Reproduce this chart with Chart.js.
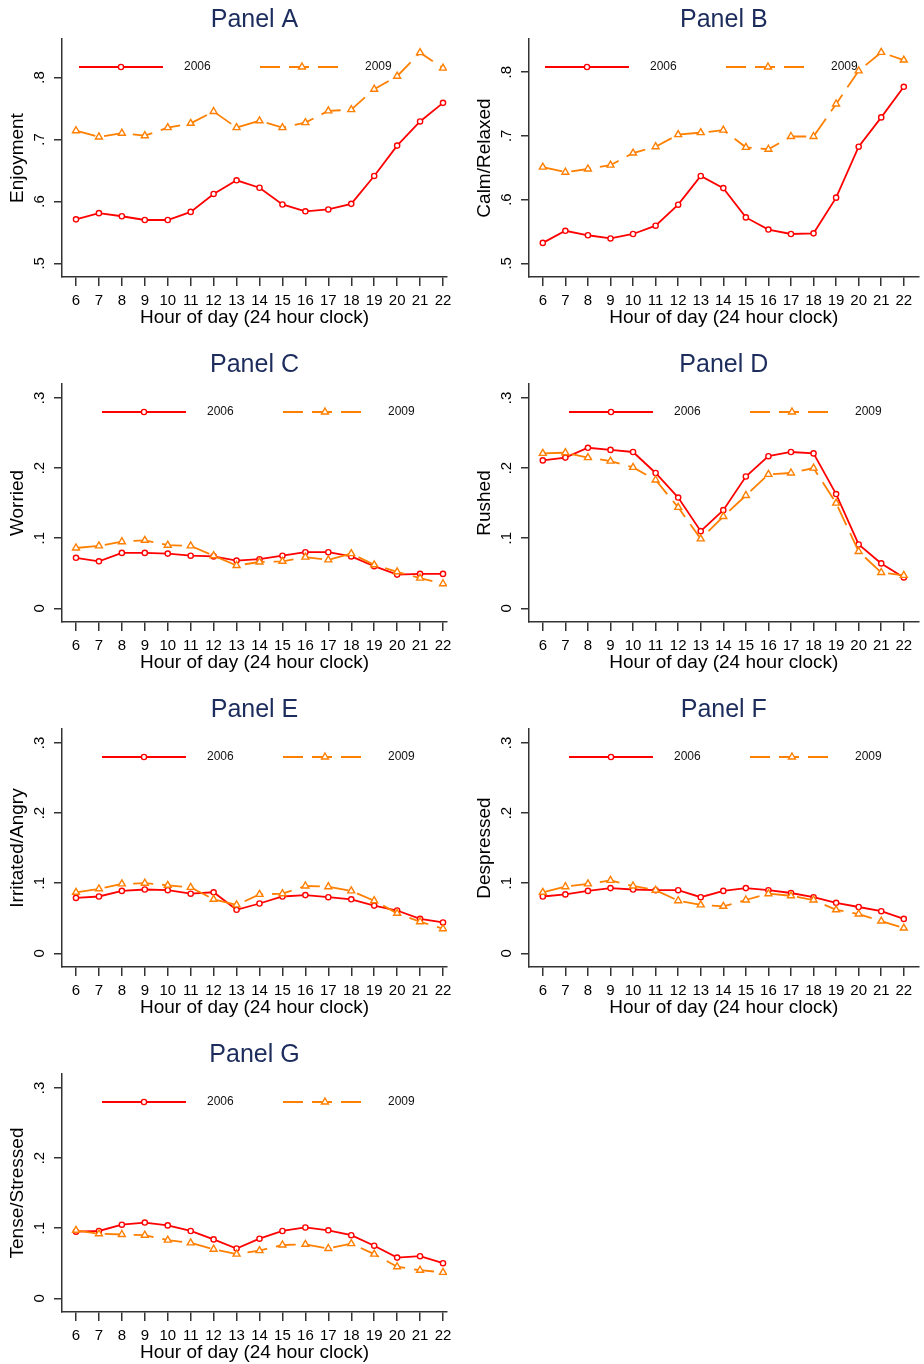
<!DOCTYPE html>
<html>
<head>
<meta charset="utf-8">
<script src="https://cdn.jsdelivr.net/npm/chart.js@4.4.1/dist/chart.umd.min.js"></script>
<style>
  body { margin: 0; background: #fff; }
  #wrap { position: relative; width: 924px; height: 1364px; overflow: hidden; }
  canvas { position: absolute; }
</style>
</head>
<body>
<div id="wrap"></div>
<script>
const hours = [6, 7, 8, 9, 10, 11, 12, 13, 14, 15, 16, 17, 18, 19, 20, 21, 22];
const seriesNames = ['2006', '2009'];

// values
const enjoy06 = [.571, .581, .576, .570, .570, .583, .612, .634, .622, .595, .584, .587, .596, .641, .690, .729, .759];
const enjoy09 = [.714, .704, .710, .706, .719, .726, .745, .719, .730, .719, .727, .746, .748, .781, .802, .840, .815];
const calm06 = [.532, .551, .544, .539, .546, .559, .592, .637, .618, .572, .553, .546, .547, .603, .683, .729, .777];
const calm09 = [.651, .643, .648, .654, .673, .683, .702, .705, .709, .682, .679, .699, .699, .750, .802, .831, .819];
const worried06 = [.072, .067, .079, .079, .078, .075, .074, .068, .070, .075, .080, .080, .074, .060, .048, .049, .049];
const worried09 = [.086, .089, .095, .097, .090, .089, .075, .061, .066, .067, .073, .069, .078, .062, .052, .043, .035];
const rushed06 = [.211, .215, .229, .226, .223, .193, .158, .110, .140, .188, .217, .223, .221, .163, .091, .064, .044];
const rushed09 = [.221, .222, .215, .210, .201, .183, .144, .099, .131, .161, .191, .193, .200, .150, .081, .051, .047];
const angry06 = [.079, .081, .089, .091, .090, .085, .087, .062, .071, .081, .083, .080, .077, .068, .061, .049, .044];
const angry09 = [.087, .092, .099, .100, .097, .094, .077, .069, .084, .085, .096, .095, .089, .075, .057, .045, .035];
const depr06 = [.081, .084, .089, .093, .091, .090, .090, .080, .089, .093, .090, .086, .080, .072, .066, .060, .049];
const depr09 = [.087, .095, .099, .104, .096, .090, .075, .069, .067, .076, .085, .082, .076, .062, .056, .046, .036];
const tense06 = [.095, .096, .105, .108, .104, .096, .084, .071, .085, .096, .101, .097, .090, .075, .058, .060, .050];
const tense09 = [.097, .092, .091, .090, .083, .079, .070, .063, .068, .076, .077, .071, .078, .063, .045, .040, .037];

const highTicks = [.5, .6, .7, .8];
const highTickLabels = ['.5', '.6', '.7', '.8'];
const lowTicks = [0, .1, .2, .3];
const lowTickLabels = ['0', '.1', '.2', '.3'];

const panels = [
  { name: 'Panel A', ylab: 'Enjoyment', a: enjoy06, b: enjoy09, yMin: .478, yMax: .862, yt: highTicks, ytl: highTickLabels, keyOff: 17 },
  { name: 'Panel B', ylab: 'Calm/Relaxed', a: calm06, b: calm09, yMin: .4785, yMax: .852, yt: highTicks, ytl: highTickLabels, keyOff: 16 },
  { name: 'Panel C', ylab: 'Worried', a: worried06, b: worried09, yMin: -.0196, yMax: .32, yt: lowTicks, ytl: lowTickLabels, keyOff: 40 },
  { name: 'Panel D', ylab: 'Rushed', a: rushed06, b: rushed09, yMin: -.0196, yMax: .32, yt: lowTicks, ytl: lowTickLabels, keyOff: 40 },
  { name: 'Panel E', ylab: 'Irritated/Angry', a: angry06, b: angry09, yMin: -.0196, yMax: .32, yt: lowTicks, ytl: lowTickLabels, keyOff: 40 },
  { name: 'Panel F', ylab: 'Despressed', a: depr06, b: depr09, yMin: -.0196, yMax: .32, yt: lowTicks, ytl: lowTickLabels, keyOff: 40 },
  { name: 'Panel G', ylab: 'Tense/Stressed', a: tense06, b: tense09, yMin: -.0196, yMax: .32, yt: lowTicks, ytl: lowTickLabels, keyOff: 40 }
];

const FONT = '"Liberation Sans", Arial, sans-serif';
const AXIS = '#333333';
const RED = '#ff0000';
const ORANGE = '#ff7f00';

// stata style legend: line with the marker in the middle, drawn inside the plot
const keyPlugin = {
  id: 'keys',
  afterDraw(chart, args, opts) {
    const ctx = chart.ctx;
    const y = chart.chartArea.top + 28;
    chart.data.datasets.forEach((ds, i) => {
      const x0 = chart.chartArea.left + opts.offset + i * 181;
      ctx.save();
      ctx.strokeStyle = ds.borderColor;
      ctx.lineWidth = ds.borderWidth;
      ctx.setLineDash(ds.borderDash || []);
      ctx.beginPath();
      ctx.moveTo(x0, y);
      ctx.lineTo(x0 + 84, y);
      ctx.stroke();
      ctx.setLineDash([]);
      ctx.fillStyle = '#fff';
      ctx.lineWidth = ds.pointBorderWidth;
      const cx = x0 + 42, r = ds.pointRadius;
      ctx.beginPath();
      if (ds.pointStyle === 'triangle') {
        let rad = 0;
        for (let k = 0; k < 3; k++) {
          const px = cx + Math.sin(rad) * r, py = y - Math.cos(rad) * r;
          if (k === 0) ctx.moveTo(px, py); else ctx.lineTo(px, py);
          rad += Math.PI * 2 / 3;
        }
        ctx.closePath();
      } else {
        ctx.arc(cx, y, r, 0, Math.PI * 2);
      }
      ctx.fill();
      ctx.stroke();
      ctx.fillStyle = '#111';
      ctx.font = '12px ' + FONT;
      ctx.textBaseline = 'middle';
      ctx.fillText(ds.label, x0 + 105, y);
      ctx.restore();
    });
  }
};

function pts(vals) {
  return hours.map((h, i) => ({ x: h, y: vals[i] }));
}

const wrap = document.getElementById('wrap');

panels.forEach((p, i) => {
  const col = i % 2, row = Math.floor(i / 2);
  const cv = document.createElement('canvas');
  cv.width = 462;
  cv.height = 329;
  cv.style.left = (col * 462) + 'px';
  cv.style.top = (row * 345) + 'px';
  wrap.appendChild(cv);

  new Chart(cv, {
    type: 'line',
    data: {
      datasets: [
        {
          label: seriesNames[0], data: pts(p.a), borderColor: RED, borderWidth: 1.8,
          pointStyle: 'circle', pointRadius: 2.6, pointBorderWidth: 1.4,
          pointBackgroundColor: '#fff', pointBorderColor: RED, tension: 0, order: 1
        },
        {
          label: seriesNames[1], data: pts(p.b), borderColor: ORANGE, borderWidth: 1.8, borderDash: [20, 9],
          pointStyle: 'triangle', pointRadius: 4, pointBorderWidth: 1.4,
          pointBackgroundColor: '#fff', pointBorderColor: ORANGE, tension: 0, order: 0
        }
      ]
    },
    options: {
      responsive: false,
      animation: false,
      events: [],
      layout: { padding: { left: col ? 5 : 0, right: col ? 0 : 15, top: 0, bottom: 0 } },
      plugins: {
        legend: { display: false },
        tooltip: { enabled: false },
        title: {
          display: true, text: p.name, fullSize: false, color: '#1c2c5c',
          font: { family: FONT, size: 25, weight: 'normal' }, padding: { top: 5, bottom: 4 }
        },
        keys: { offset: p.keyOff }
      },
      scales: {
        x: {
          type: 'linear',
          min: col ? 5.388 : 5.39,
          max: col ? 22.656 : 22.174,
          afterBuildTicks: s => { s.ticks = hours.map(v => ({ value: v })); },
          afterFit: s => { s.height = 52; },
          ticks: {
            autoSkip: false, maxRotation: 0, minRotation: 0, padding: 6, color: '#000',
            font: { family: FONT, size: 15 },
            callback: v => String(v)
          },
          grid: { drawOnChartArea: false, tickLength: 9, color: AXIS, lineWidth: 1.5 },
          border: { color: AXIS, width: 1.5 },
          title: {
            display: true, text: 'Hour of day (24 hour clock)', color: '#000',
            font: { family: FONT, size: 19 }, padding: { top: 0, bottom: 0 }
          }
        },
        y: {
          min: p.yMin,
          max: p.yMax,
          afterBuildTicks: s => { s.ticks = p.yt.map(v => ({ value: v })); },
          afterFit: s => { s.width = 62; },
          ticks: {
            autoSkip: false, minRotation: 90, maxRotation: 90, crossAlign: 'center', padding: 8,
            color: '#000', font: { family: FONT, size: 15 },
            callback: (v, idx) => p.ytl[idx]
          },
          grid: { drawOnChartArea: false, tickLength: 8, color: AXIS, lineWidth: 1.5 },
          border: { color: AXIS, width: 1.5 },
          title: {
            display: true, text: p.ylab, color: '#000',
            font: { family: FONT, size: 19 }, padding: { top: 6.5, bottom: 0 }
          }
        }
      }
    },
    plugins: [keyPlugin]
  });
});
</script>
</body>
</html>
